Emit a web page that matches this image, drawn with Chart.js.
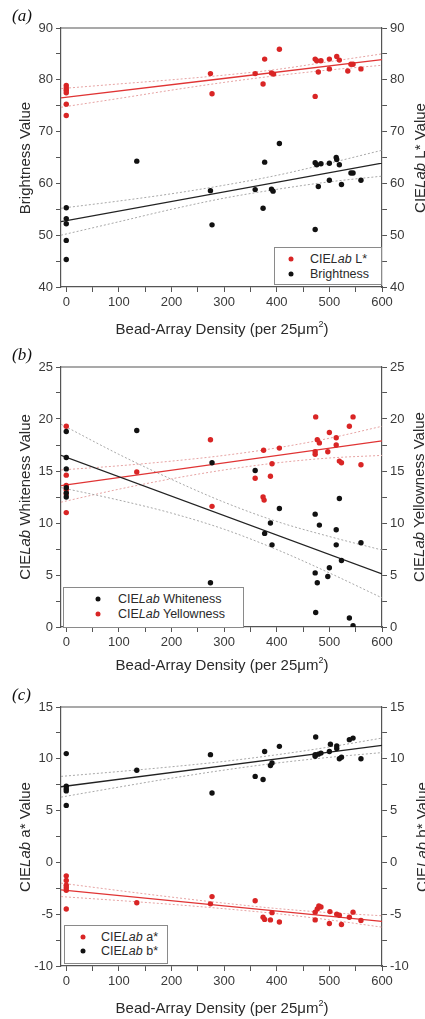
<!DOCTYPE html>
<html>
<head>
<meta charset="utf-8">
<script src="https://cdn.jsdelivr.net/npm/chart.js@4.4.1/dist/chart.umd.min.js"></script>
<style>
body { margin:0; background:#fff; width:425px; height:1019px; overflow:hidden; position:relative; font-family:"Liberation Sans", Arial, sans-serif; }
.panel { position:absolute; left:0; width:425px; }
canvas { display:block; }
.lbl { position:absolute; font-family:"Liberation Serif", serif; font-style:italic; font-size:17px; color:#111; transform:translateY(-50%); }
.ttl { position:absolute; font-size:15px; color:#2a2a2a; white-space:nowrap; }
.vt { transform:translate(-50%,-50%) rotate(-90deg); }
.ht { transform:translate(-50%,-50%); }
.ttl sup { font-size:9px; vertical-align:7px; line-height:0; }
.leg { position:absolute; border:1px solid #8a8a8a; background:#fff; font-size:12.5px; color:#2a2a2a; }
.leg .row { position:absolute; white-space:nowrap; transform:translateY(-50%); }
.leg .dot { position:absolute; width:5px; height:5px; border-radius:50%; transform:translate(-50%,-50%); }
</style>
</head>
<body>

<div class="panel" style="top:0"><canvas id="chartA" width="425" height="335"></canvas></div>
<div class="panel" style="top:335px"><canvas id="chartB" width="425" height="335"></canvas></div>
<div class="panel" style="top:670px"><canvas id="chartC" width="425" height="349"></canvas></div>

<div class="lbl" style="left:12px;top:16px">(a)</div>
<div class="lbl" style="left:12px;top:355px">(b)</div>
<div class="lbl" style="left:12px;top:695px">(c)</div>

<div class="ttl vt" style="left:24px;top:158px">Brightness Value</div>
<div class="ttl vt" style="left:419px;top:158px">CIE<i>Lab</i> L* Value</div>
<div class="ttl ht" style="left:222px;top:328px">Bead-Array Density (per 25μm<sup>2</sup>)</div>

<div class="ttl vt" style="left:24px;top:497px">CIE<i>Lab</i> Whiteness Value</div>
<div class="ttl vt" style="left:418px;top:497px">CIE<i>Lab</i> Yellowness Value</div>
<div class="ttl ht" style="left:222px;top:664px">Bead-Array Density (per 25μm<sup>2</sup>)</div>

<div class="ttl vt" style="left:24px;top:837px">CIE<i>Lab</i> a* Value</div>
<div class="ttl vt" style="left:421px;top:837px">CIE<i>Lab</i> b* Value</div>
<div class="ttl ht" style="left:222px;top:1007px">Bead-Array Density (per 25μm<sup>2</sup>)</div>

<div class="leg" style="left:274px;top:247px;width:106px;height:36px">
  <span class="dot" style="left:16px;top:11px;background:#d92525"></span><span class="row" style="left:35px;top:11px">CIE<i>Lab</i> L*</span>
  <span class="dot" style="left:16px;top:26px;background:#111"></span><span class="row" style="left:35px;top:26px">Brightness</span>
</div>
<div class="leg" style="left:63px;top:587px;width:179px;height:39px">
  <span class="dot" style="left:34px;top:11px;background:#111"></span><span class="row" style="left:54px;top:11px">CIE<i>Lab</i> Whiteness</span>
  <span class="dot" style="left:34px;top:26px;background:#d92525"></span><span class="row" style="left:54px;top:26px">CIE<i>Lab</i> Yellowness</span>
</div>
<div class="leg" style="left:64px;top:925px;width:102px;height:37px">
  <span class="dot" style="left:18px;top:11px;background:#d92525"></span><span class="row" style="left:36px;top:11px">CIE<i>Lab</i> a*</span>
  <span class="dot" style="left:18px;top:25px;background:#111"></span><span class="row" style="left:36px;top:25px">CIE<i>Lab</i> b*</span>
</div>

<script>
// shared x axis
const xTicks = [0, 50, 100, 150, 200, 250, 300, 350, 400, 450, 500, 550, 600];
const fitX = [-10, 600];
const bandX = [-10, 100, 200, 300, 400, 500, 600];

// (a) CIELab L* (red) and Brightness (black)
const lX = [0, 0, 0, 0, 0, 0, 274, 277, 359, 374, 377, 390, 394, 405, 473, 473, 476, 479, 484, 500, 500, 514, 519, 535, 541, 545, 560];
const lY = [78.9, 78.4, 78.0, 77.5, 75.3, 73.1, 81.2, 77.3, 81.2, 79.2, 84.0, 81.3, 81.1, 85.9, 84.0, 76.8, 83.7, 81.5, 83.7, 84.0, 82.1, 84.5, 83.8, 81.7, 83.0, 83.0, 82.1];
const brX = [0, 0, 0, 0, 0, 134, 274, 277, 359, 374, 377, 390, 393, 405, 473, 473, 476, 479, 484, 500, 500, 513, 514, 519, 523, 541, 545, 560];
const brY = [55.3, 53.2, 52.2, 49.0, 45.3, 64.3, 58.6, 52.0, 58.8, 55.2, 64.1, 58.9, 58.5, 67.7, 64.0, 51.1, 63.6, 59.4, 63.8, 63.9, 60.6, 65.0, 64.6, 63.6, 59.8, 62.0, 62.0, 60.6];
const lFit = [76.5, 83.9];
const lUp = [78.3, 79.2, 80.0, 80.9, 82.0, 83.5, 85.0];
const lLo = [74.7, 76.4, 78.0, 79.5, 80.8, 81.9, 82.8];
const brFit = [52.6, 63.9];
const brUp = [55.2, 56.6, 58.0, 59.65, 61.55, 63.9, 66.4];
const brLo = [50.0, 52.6, 55.0, 57.15, 58.85, 60.3, 61.4];
const yTicksA = [40, 45, 50, 55, 60, 65, 70, 75, 80, 85, 90];

// (b) CIELab Whiteness (black) and Yellowness (red)
const wX = [0, 0, 0, 0, 0, 0, 134, 274, 277, 359, 377, 388, 391, 405, 473, 473, 474, 477, 481, 497, 500, 513, 513, 519, 523, 538, 545, 560];
const wY = [18.8, 16.3, 15.2, 13.4, 12.9, 12.5, 18.9, 4.25, 15.8, 15.05, 9.0, 10.0, 7.9, 11.4, 10.85, 5.2, 1.4, 4.25, 9.8, 4.85, 5.7, 9.35, 7.9, 12.35, 6.4, 0.87, 0.13, 8.1];
const yeX = [0, 0, 0, 0, 0, 0, 134, 274, 277, 359, 374, 376, 375, 388, 391, 405, 473, 473, 474, 477, 481, 497, 500, 513, 513, 519, 523, 538, 545, 560];
const yeY = [19.3, 14.6, 13.6, 13.2, 12.8, 11.0, 14.9, 18.0, 11.6, 14.3, 12.5, 12.2, 17.0, 14.5, 15.7, 17.2, 16.85, 16.6, 20.2, 18.0, 17.7, 16.85, 18.7, 18.2, 17.5, 15.95, 15.8, 19.3, 20.2, 15.6];
const wFit = [16.5, 5.1];
const wUp = [19.5, 16.6, 14.2, 12.0, 10.15, 8.7, 7.4];
const wLo = [13.4, 12.2, 10.95, 9.4, 7.45, 5.2, 2.8];
const yeFit = [13.6, 17.9];
const yeUp = [15.1, 15.5, 15.95, 16.5, 17.22, 18.15, 19.3];
const yeLo = [12.0, 13.25, 14.25, 15.1, 15.78, 16.25, 16.5];
const yTicksB = [0, 2.5, 5, 7.5, 10, 12.5, 15, 17.5, 20, 22.5, 25];

// (c) CIELab a* (red) and b* (black)
const asX = [0, 0, 0, 0, 0, 0, 134, 274, 277, 359, 374, 377, 388, 391, 405, 473, 473, 477, 480, 484, 500, 501, 514, 519, 523, 538, 545, 560];
const asY = [-1.3, -1.75, -2.2, -2.45, -2.7, -4.5, -3.9, -4.0, -3.3, -3.7, -5.3, -5.5, -5.55, -4.85, -5.75, -5.55, -4.8, -4.5, -4.2, -4.3, -5.9, -4.75, -5.0, -5.1, -6.0, -5.3, -4.8, -5.6];
const bsX = [0, 0, 0, 0, 0, 134, 274, 277, 359, 374, 377, 388, 391, 405, 474, 473, 473, 479, 484, 500, 502, 514, 514, 519, 523, 538, 545, 560];
const bsY = [10.5, 7.35, 7.1, 6.9, 5.5, 8.9, 10.4, 6.7, 8.3, 8.0, 10.7, 9.35, 9.6, 11.2, 12.1, 10.4, 10.25, 10.45, 10.55, 10.7, 11.4, 11.25, 11.0, 10.0, 10.15, 11.85, 12.0, 10.0];
const asFit = [-2.65, -5.7];
const asUp = [-2.0, -2.72, -3.35, -3.93, -4.45, -4.85, -5.15];
const asLo = [-3.3, -3.68, -4.05, -4.47, -4.95, -5.55, -6.25];
const bsFit = [7.3, 11.3];
const bsUp = [8.3, 8.77, 9.23, 9.75, 10.39, 11.14, 12.0];
const bsLo = [6.3, 7.27, 8.13, 8.91, 9.59, 10.14, 10.6];
const yTicksC = [-10, -7.5, -5, -2.5, 0, 2.5, 5, 7.5, 10, 12.5, 15];

const RED = "#d92525";
const BLACK = "#111111";

Chart.defaults.font.family = "'Liberation Sans', Arial, sans-serif";
Chart.defaults.color = "#3a3a3a";

function pts(xs, ys) {
  return xs.map((x, i) => ({ x: x, y: ys[i] }));
}

function points(xs, ys, color) {
  return { type: "scatter", data: pts(xs, ys), backgroundColor: color, borderColor: color,
    borderWidth: 0, pointRadius: 2.7, order: 0 };
}

function line(xs, ys, color, dashed) {
  return { type: "line", data: pts(xs, ys), borderColor: color, borderWidth: dashed ? 1 : 1.3,
    borderDash: dashed ? [2, 2] : [], pointRadius: 0, fill: false,
    cubicInterpolationMode: "monotone", order: dashed ? 2 : 1 };
}

// top edge of the frame
const frame = {
  id: "frame",
  afterDraw(chart) {
    const a = chart.chartArea, c = chart.ctx;
    c.save();
    c.strokeStyle = "#555";
    c.lineWidth = 1.2;
    c.beginPath();
    c.moveTo(a.left, a.top);
    c.lineTo(a.right, a.top);
    c.stroke();
    c.restore();
  }
};

function yAxis(pos, ticks, minY, maxY, every, width) {
  return {
    type: "linear", position: pos, min: minY, max: maxY,
    afterBuildTicks: s => { s.ticks = ticks.map(v => ({ value: v })); },
    afterFit: s => { s.width = width; },
    ticks: { font: { size: 13 }, color: "#3a3a3a", padding: 3,
      callback: v => (Math.abs(v % every) < 1e-9 ? v : "") },
    grid: { drawOnChartArea: false, drawTicks: true, tickLength: 5, color: "#555" },
    border: { display: true, color: "#555", width: 1.2 }
  };
}

function makePanel(id, datasets, yTicks, every, top, xHeight) {
  const minY = yTicks[0], maxY = yTicks[yTicks.length - 1];
  return new Chart(document.getElementById(id), {
    type: "scatter",
    data: { datasets: datasets },
    options: {
      responsive: false, animation: false, devicePixelRatio: 1,
      layout: { padding: { top: top, left: 0, right: 0, bottom: 0 } },
      plugins: { legend: { display: false }, tooltip: { enabled: false } },
      scales: {
        x: {
          type: "linear", min: -10, max: 600,
          afterBuildTicks: s => { s.ticks = xTicks.map(v => ({ value: v })); },
          afterFit: s => { s.height = xHeight; },
          ticks: { font: { size: 13 }, color: "#3a3a3a", padding: 3, maxRotation: 0, autoSkip: false,
            callback: v => (v % 100 === 0 ? v : "") },
          grid: { drawOnChartArea: false, drawTicks: true, tickLength: 5, color: "#555" },
          border: { display: true, color: "#555", width: 1.2 }
        },
        y: yAxis("left", yTicks, minY, maxY, every, 61),
        y2: yAxis("right", yTicks, minY, maxY, every, 43)
      }
    },
    plugins: [frame]
  });
}

makePanel("chartA", [
  points(lX, lY, RED),
  points(brX, brY, BLACK),
  line(fitX, lFit, "#e03434", false),
  line(fitX, brFit, "#222", false),
  line(bandX, lUp, "#e6a3a3", true),
  line(bandX, lLo, "#e6a3a3", true),
  line(bandX, brUp, "#a8a8a8", true),
  line(bandX, brLo, "#a8a8a8", true)
], yTicksA, 10, 28, 48);

makePanel("chartB", [
  points(wX, wY, BLACK),
  points(yeX, yeY, RED),
  line(fitX, wFit, "#222", false),
  line(fitX, yeFit, "#e03434", false),
  line(bandX, wUp, "#a8a8a8", true),
  line(bandX, wLo, "#a8a8a8", true),
  line(bandX, yeUp, "#e6a3a3", true),
  line(bandX, yeLo, "#e6a3a3", true)
], yTicksB, 5, 32, 43);

makePanel("chartC", [
  points(asX, asY, RED),
  points(bsX, bsY, BLACK),
  line(fitX, asFit, "#e03434", false),
  line(fitX, bsFit, "#222", false),
  line(bandX, asUp, "#e6a3a3", true),
  line(bandX, asLo, "#e6a3a3", true),
  line(bandX, bsUp, "#a8a8a8", true),
  line(bandX, bsLo, "#a8a8a8", true)
], yTicksC, 5, 37, 53);
</script>
</body>
</html>
